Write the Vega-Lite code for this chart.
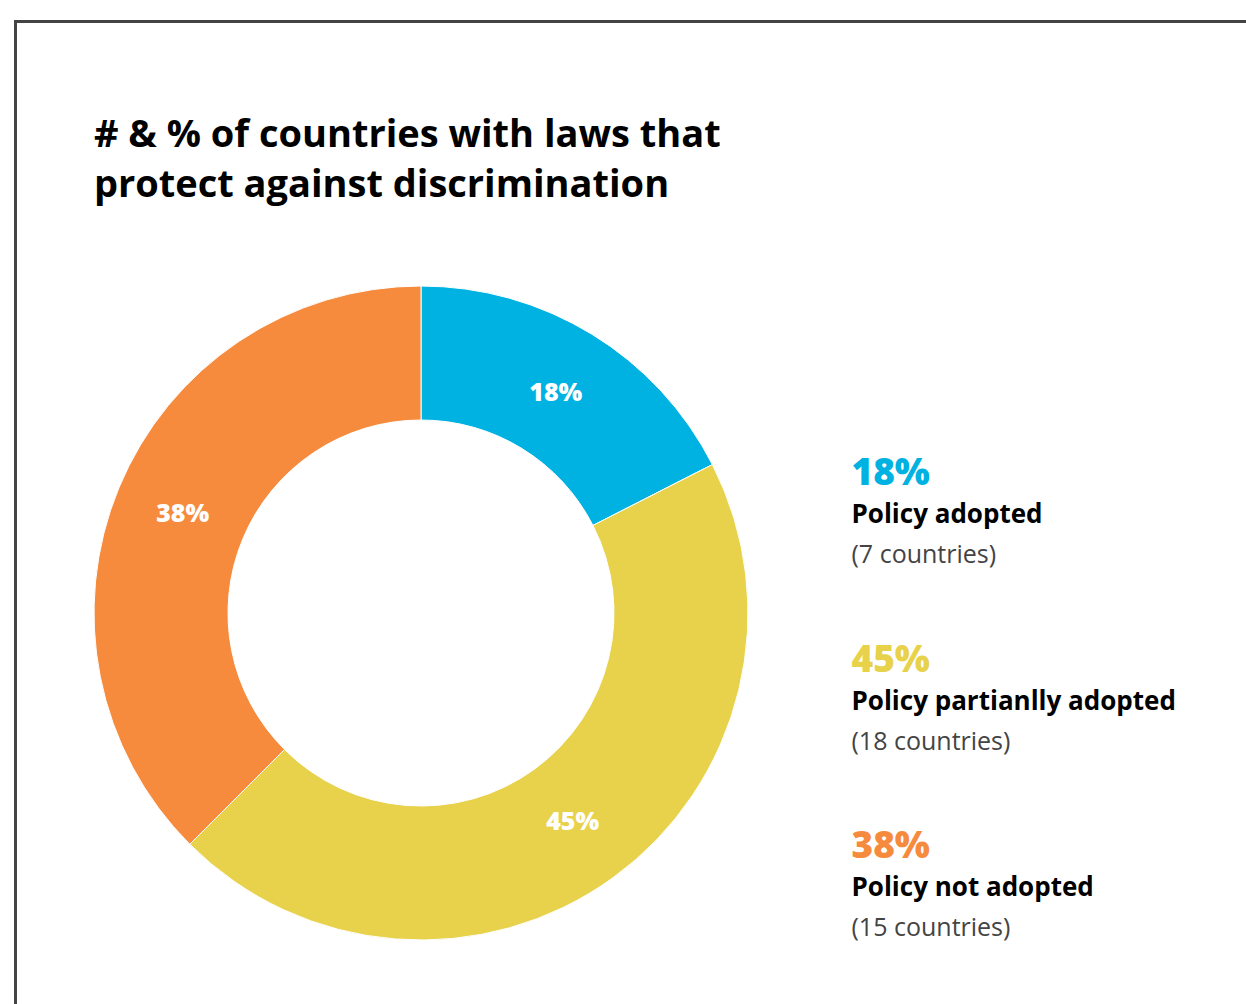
{
  "$schema": "https://vega.github.io/schema/vega-lite/v6.json",
  "padding": {"left": 12.5, "top": 18.5, "right": 0, "bottom": 0},
  "background": "white",
  "spacing": 0,
  "bounds": "flush",
  "config": {"view": {"stroke": null}, "concat": {"spacing": 0}},
  "datasets": {
    "policy": [
      {"category": "Policy adopted", "count": 7, "pct": "18%", "countLabel": "(7 countries)", "order": 1},
      {"category": "Policy partianlly adopted", "count": 18, "pct": "45%", "countLabel": "(18 countries)", "order": 2},
      {"category": "Policy not adopted", "count": 15, "pct": "38%", "countLabel": "(15 countries)", "order": 3}
    ],
    "frame": [{}]
  },
  "hconcat": [
    {
      "width": 811,
      "height": 1183,
      "title": {
        "text": ["# & % of countries with laws that", "protect against discrimination"],
        "anchor": "start",
        "orient": "top",
        "offset": -186,
        "dx": 80.5,
        "font": "Open Sans",
        "fontSize": 38,
        "fontWeight": "bold",
        "color": "#000000",
        "lineHeight": 50
      },
      "layer": [
        {
          "data": {"name": "frame"},
          "mark": {"type": "rule", "stroke": "#444444", "strokeWidth": 3, "strokeCap": "square"},
          "encoding": {"x": {"value": 0}, "x2": {"value": "width"}, "y": {"value": 0}}
        },
        {
          "data": {"name": "frame"},
          "mark": {"type": "rule", "stroke": "#444444", "strokeWidth": 3, "strokeCap": "square"},
          "encoding": {"x": {"value": 0}, "y": {"value": 0}, "y2": {"value": "height"}}
        },
        {
          "data": {"name": "policy"},
          "mark": {"type": "arc", "radius": 327, "radius2": 193, "stroke": "white", "strokeWidth": 1},
          "encoding": {
            "theta": {"field": "count", "type": "quantitative", "stack": true},
            "order": {"field": "order", "type": "quantitative"},
            "color": {
              "field": "category", "type": "nominal",
              "scale": {"domain": ["Policy adopted", "Policy partianlly adopted", "Policy not adopted"], "range": ["#00B2E2", "#E8D24C", "#F68B3E"]},
              "legend": null
            }
          }
        },
        {
          "data": {"name": "policy"},
          "mark": {"type": "text", "radius": 258, "font": "Open Sans", "fontWeight": 800, "fontSize": 25, "color": "white"},
          "encoding": {
            "theta": {"field": "count", "type": "quantitative", "stack": true},
            "order": {"field": "order", "type": "quantitative"},
            "text": {"field": "pct", "type": "nominal"}
          }
        }
      ]
    },
    {
      "bounds": "flush",
      "vconcat": [
        {
          "width": 440,
          "height": 277,
          "data": {"name": "frame"},
          "mark": {"type": "rule", "stroke": "#444444", "strokeWidth": 3, "strokeCap": "square"},
          "encoding": {"x": {"value": 0}, "x2": {"value": "width"}, "y": {"value": 0}}
        },
        {
          "width": 440,
          "height": 746,
          "data": {"name": "policy"},
          "encoding": {
            "y": {
              "field": "category", "type": "nominal",
              "scale": {"type": "point", "domain": ["Policy adopted", "Policy partianlly adopted", "Policy not adopted"], "padding": 1},
              "axis": null
            }
          },
          "layer": [
            {
              "mark": {"type": "text", "align": "left", "baseline": "alphabetic", "dx": -195, "dy": 0, "font": "Open Sans", "fontWeight": 800, "fontSize": 37},
              "encoding": {
                "text": {"field": "pct", "type": "nominal"},
                "color": {
                  "field": "category", "type": "nominal",
                  "scale": {"domain": ["Policy adopted", "Policy partianlly adopted", "Policy not adopted"], "range": ["#00B2E2", "#E8D24C", "#F68B3E"]},
                  "legend": null
                }
              }
            },
            {
              "mark": {"type": "text", "align": "left", "baseline": "alphabetic", "dx": -195, "dy": 38, "font": "Open Sans", "fontWeight": "bold", "fontSize": 26, "color": "#000000"},
              "encoding": {"text": {"field": "category", "type": "nominal"}}
            },
            {
              "mark": {"type": "text", "align": "left", "baseline": "alphabetic", "dx": -195, "dy": 78, "font": "Open Sans", "fontWeight": 400, "fontSize": 25, "color": "#444444"},
              "encoding": {"text": {"field": "countLabel", "type": "nominal"}}
            }
          ]
        }
      ]
    }
  ]
}
